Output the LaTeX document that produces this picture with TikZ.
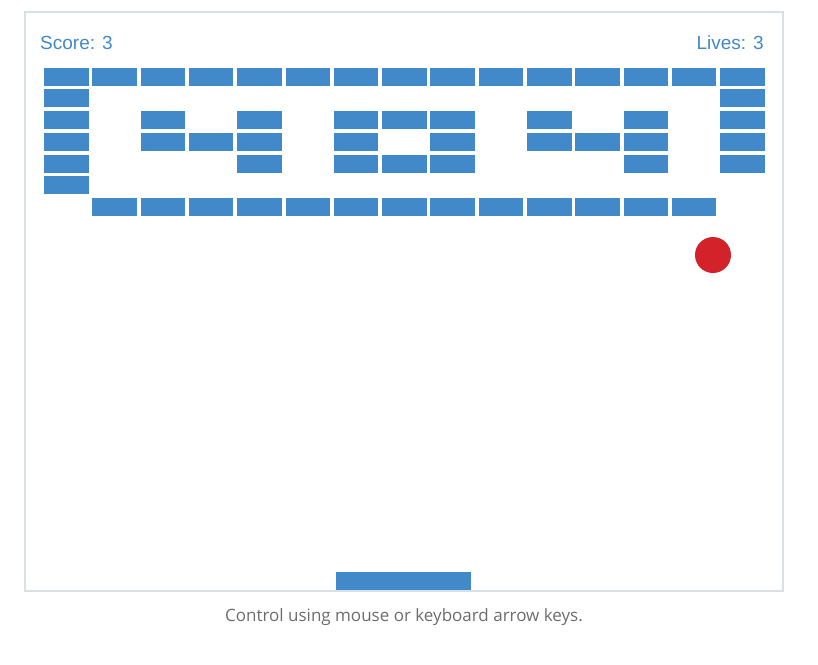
\documentclass[tikz,border=0pt]{standalone}
\usepackage{fontspec}
\setmainfont{Liberation Sans}
\newfontfamily\capfont{Open Sans}
\definecolor{brick}{HTML}{4189C9}
\definecolor{ballc}{HTML}{D3222A}
\definecolor{frame}{HTML}{D8E0E4}
\begin{document}
\begin{tikzpicture}[x=1pt,y=-1pt,
  brk/.style={fill=brick,draw=none},
  lbl/.style={text=brick,font=\fontsize{19}{20}\selectfont,inner sep=0pt}]
\useasboundingbox (0,0) rectangle (818,664);
\draw[frame,line width=1.2pt] (25,12) rectangle (783,591);
\node[lbl,anchor=base west] (score) at (40,49) {Score: 3};
\node[lbl,anchor=base east] (lives) at (764,49) {Lives: 3};
\foreach \r/\cols in {0/{0,1,2,3,4,5,6,7,8,9,10,11,12,13,14},
  1/{0,14},2/{0,2,4,6,7,8,10,12,14},3/{0,2,3,4,6,8,10,11,12,14},
  4/{0,4,6,7,8,12,14},5/{0},6/{1,2,3,4,5,6,7,8,9,10,11,12,13}}{
  \foreach \c in \cols {
    \fill[brick] ({44+48.3*\c},{67.7+21.7*\r}) rectangle ++(44.5,18);
  }
}
\fill[ballc] (713,255) circle (18);
\fill[brick] (336,572) rectangle (471,590);
\node[text=gray!85!black,font=\capfont\fontsize{17}{18}\selectfont,inner sep=0pt] (cap) at (404,617) {Control using mouse or keyboard arrow keys.};
\end{tikzpicture}
\end{document}
